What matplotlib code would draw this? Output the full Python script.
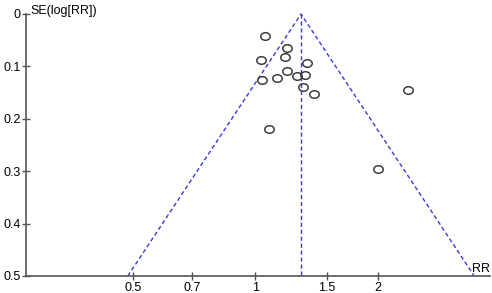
import matplotlib
matplotlib.use("Agg")
import matplotlib.pyplot as plt
import matplotlib.path as mpath
import numpy as np

plt.rcParams['font.family'] = ['Liberation Sans', 'DejaVu Sans']

# study estimates
rr = [1.055, 1.197, 1.033, 1.182, 1.336, 1.193, 1.039, 1.131,
      1.267, 1.323, 1.306, 1.392, 2.366, 1.079, 2.00]
se = [0.0415, 0.0644, 0.0873, 0.0828, 0.0943, 0.1084, 0.125, 0.123,
      0.1186, 0.1166, 0.1396, 0.1523, 0.1453, 0.219, 0.295]
pooled_rr = 1.294
se_max = 0.5

x_ticks = [0.5, 0.7, 1, 1.5, 2]
x_tick_labels = ['0.5', '0.7', '1', '1.5', '2']
y_ticks = [0, 0.1, 0.2, 0.3, 0.4, 0.5]
y_tick_labels = ['0', '0.1', '0.2', '0.3', '0.4', '0.5']

fig = plt.figure(figsize=(4.92, 2.93), dpi=100)
ax = fig.add_axes([26/492, 1 - 276/293, 464/492, 262/293])

# funnel lines (pseudo 95% limits)
lo = np.exp(np.log(pooled_rr) - 1.96 * se_max)
hi = np.exp(np.log(pooled_rr) + 1.96 * se_max)
blue = '#3a3ad6'
ax.plot([lo, pooled_rr, hi], [se_max, 0, se_max], color=blue, lw=1.0,
        ls=(0, (3, 2)), clip_on=False)
ax.plot([pooled_rr, pooled_rr], [0, se_max], color=blue, lw=1.0,
        ls=(0, (3, 2)), clip_on=False)

# slightly flattened circle marker
circ = mpath.Path.unit_circle()
ellipse = mpath.Path(circ.vertices * np.array([1.0, 0.8]), circ.codes)
ax.plot(rr, se, ls='none', marker=ellipse, markersize=6.8,
        markerfacecolor='none', markeredgecolor='#3c3c3c', markeredgewidth=1.1,
        clip_on=False, zorder=3)

ax.set_xscale('log')
ax.set_xlim(0.273, 3.77)
ax.set_ylim(se_max, 0)
ax.set_xticks(x_ticks)
ax.set_xticklabels(x_tick_labels)
ax.xaxis.set_minor_locator(matplotlib.ticker.NullLocator())
ax.set_yticks(y_ticks)
ax.set_yticklabels(y_tick_labels)

for side in ['top', 'right']:
    ax.spines[side].set_visible(False)
for side in ['left', 'bottom']:
    ax.spines[side].set_color('#555555')
    ax.spines[side].set_linewidth(1.2)
ax.tick_params(direction='inout', length=6, width=1.0, color='#555555',
               labelsize=9, labelcolor='black', pad=1)

ax.text(30/492, 1 - 14/293, 'SE(log[RR])', transform=fig.transFigure,
        fontsize=9, ha='left', va='baseline')
ax.text(490/492, 1 - 272/293, 'RR', transform=fig.transFigure,
        fontsize=9, ha='right', va='baseline')

fig.savefig('out.png', dpi=100)
